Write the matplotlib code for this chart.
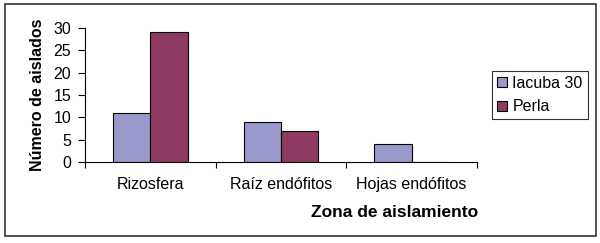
import matplotlib
matplotlib.use("Agg")
import matplotlib.pyplot as plt
from matplotlib.patches import Rectangle
import numpy as np

plt.rcParams['font.family'] = ['Liberation Sans', 'DejaVu Sans']

categories = ['Rizosfera', 'Raíz endófitos', 'Hojas endófitos']
iacuba = [11, 9, 4]
perla = [29, 7, 0]
series_names = ['Iacuba 30', 'Perla']
colors = ['#9999cc', '#8e3a62']

fig = plt.figure(figsize=(6.0, 2.43), dpi=100)
ax = fig.add_axes([85/600, 1 - 162/243, (477-85)/600, (162-28)/243])

x = np.arange(len(categories))
w = 0.286
ax.bar(x - w/2, iacuba, w, color=colors[0], edgecolor='black', linewidth=0.8,
       label=series_names[0])
ax.bar(x + w/2, perla, w, color=colors[1], edgecolor='black', linewidth=0.8,
       label=series_names[1])

ax.set_xlim(-0.5, len(categories) - 0.5)
ax.set_ylim(0, 30)
ax.set_yticks(range(0, 31, 5))
ax.set_xticks(np.arange(-0.5, len(categories), 1.0))
ax.set_xticklabels([])
ax.set_xticks(x, minor=True)
ax.set_xticklabels(categories, minor=True, fontsize=11.5)
ax.tick_params(axis='x', which='minor', length=0, pad=11)
ax.tick_params(axis='x', which='major', length=4, width=0.8, direction='out')
ax.tick_params(axis='y', length=5, width=0.8, labelsize=11.5, pad=5)

for s in ['top', 'right']:
    ax.spines[s].set_visible(False)
for s in ['left', 'bottom']:
    ax.spines[s].set_linewidth(0.8)

ax.set_ylabel('Número de aislados', fontsize=11.5, fontweight='bold', labelpad=6)
fig.text(478/600, 1 - 212/243, 'Zona de aislamiento', fontsize=12.5,
         fontweight='bold', ha='right', va='center')

leg = fig.legend(loc='center', bbox_to_anchor=(540/600, 1 - 95/243),
                 fontsize=11.5, frameon=True, fancybox=False, edgecolor='black',
                 handlelength=0.6, handleheight=0.6, handletextpad=0.35,
                 borderpad=0.3, labelspacing=0.55, borderaxespad=0)
leg.get_frame().set_linewidth(0.8)
for h in leg.legend_handles:
    h.set_linewidth(0.8)

fig.patches.append(Rectangle((5/600, 1 - 236/243), 591/600, 232/243,
                             transform=fig.transFigure, fill=False,
                             edgecolor='#333333', linewidth=1.2))

fig.savefig('out.png', dpi=100)
